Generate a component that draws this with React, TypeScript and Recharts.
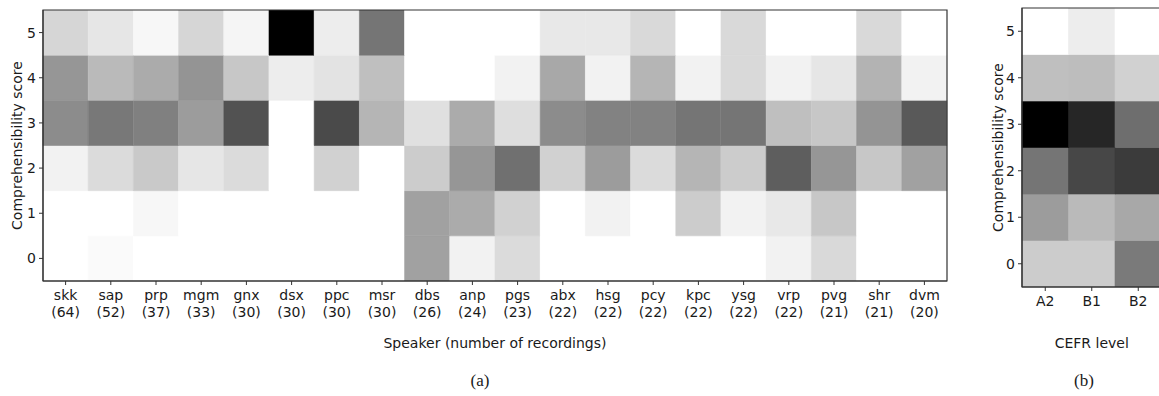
import React from 'react';
import { BarChart, Bar, XAxis, YAxis, Cell, ReferenceArea, Label } from 'recharts';

// ---------- Panel (a): speakers ----------
const speakers = ['skk', 'sap', 'prp', 'mgm', 'gnx', 'dsx', 'ppc', 'msr', 'dbs', 'anp', 'pgs', 'abx', 'hsg', 'pcy', 'kpc', 'ysg', 'vrp', 'pvg', 'shr', 'dvm'];
const recordings = [64, 52, 37, 33, 30, 30, 30, 30, 26, 24, 23, 22, 22, 22, 22, 22, 22, 21, 21, 20];
const scoreTicks = [0, 1, 2, 3, 4, 5];

// intensity per comprehensibility score (0 = white, 1 = black), one value per speaker
const spkScore0 = [0, 0.02, 0, 0, 0, 0, 0, 0, 0.37, 0.05, 0.14, 0, 0, 0, 0, 0, 0.05, 0.15, 0, 0];
const spkScore1 = [0, 0, 0.03, 0, 0, 0, 0, 0, 0.37, 0.33, 0.18, 0, 0.05, 0, 0.2, 0.05, 0.09, 0.22, 0, 0];
const spkScore2 = [0.05, 0.14, 0.21, 0.1, 0.14, 0, 0.18, 0, 0.2, 0.41, 0.56, 0.18, 0.39, 0.14, 0.29, 0.2, 0.63, 0.41, 0.22, 0.37];
const spkScore3 = [0.45, 0.53, 0.5, 0.39, 0.68, 0, 0.71, 0.29, 0.12, 0.33, 0.13, 0.45, 0.49, 0.49, 0.54, 0.54, 0.25, 0.22, 0.42, 0.65];
const spkScore4 = [0.41, 0.27, 0.33, 0.42, 0.22, 0.07, 0.11, 0.25, 0, 0, 0.05, 0.34, 0.05, 0.29, 0.05, 0.15, 0.05, 0.1, 0.3, 0.05];
const spkScore5 = [0.16, 0.1, 0.03, 0.16, 0.04, 1.0, 0.07, 0.54, 0, 0, 0, 0.09, 0.09, 0.15, 0, 0.15, 0, 0, 0.15, 0];

// ---------- Panel (b): CEFR levels ----------
const cefrLevels = ['A2', 'B1', 'B2'];
const cefrScore0 = [0.2, 0.2, 0.52];
const cefrScore1 = [0.39, 0.27, 0.34];
const cefrScore2 = [0.54, 0.72, 0.77];
const cefrScore3 = [1.0, 0.85, 0.57];
const cefrScore4 = [0.25, 0.26, 0.18];
const cefrScore5 = [0, 0.07, 0];

const spkRows = [spkScore0, spkScore1, spkScore2, spkScore3, spkScore4, spkScore5];
const cefrRows = [cefrScore0, cefrScore1, cefrScore2, cefrScore3, cefrScore4, cefrScore5];

const grey = (v: number) => {
  const g = Math.round(255 * (1 - v));
  return `rgb(${g},${g},${g})`;
};

const FONT = 'DejaVu Sans, sans-serif';
const TEXT = '#1a1a1a';
const SPINE = '#333';

function buildTable(cats: string[], subs: (string | null)[], rows: number[][]) {
  return cats.map((c, i) => {
    const r: any = { name: c, sub: subs[i] };
    scoreTicks.forEach((k) => {
      r[`c${k}`] = 1;
      r[`v${k}`] = rows[k][i];
    });
    return r;
  });
}

const makeTick = (subs: (string | null)[]) => (props: any) => {
  const { x, y, payload, index } = props;
  const sub = subs[index];
  return (
    <g transform={`translate(${x},${y})`}>
      <text textAnchor="middle" fontFamily={FONT} fontSize={14} fill={TEXT}>
        <tspan x={0} dy={13}>{payload.value}</tspan>
        {sub ? <tspan x={0} dy={17}>{sub}</tspan> : null}
      </text>
    </g>
  );
};

type PanelProps = {
  cats: string[];
  subs: (string | null)[];
  rows: number[][];
  width: number;
  height: number;
  marginTop: number;
  marginRight: number;
  yAxisWidth: number;
  xAxisHeight: number;
  xTitle: string;
  xTitleOffset: number;
  yTitleOffset: number;
};

function HeatPanel(p: PanelProps) {
  const data = buildTable(p.cats, p.subs, p.rows);
  return (
    <BarChart
      width={p.width}
      height={p.height}
      data={data}
      margin={{ top: p.marginTop, right: p.marginRight, left: 0, bottom: 0 }}
      barCategoryGap={0}
      barGap={0}
    >
      <XAxis
        dataKey="name"
        interval={0}
        height={p.xAxisHeight}
        tick={makeTick(p.subs)}
        tickSize={4}
        tickMargin={2}
        tickLine={{ stroke: SPINE }}
        axisLine={{ stroke: SPINE }}
      >
        <Label
          value={p.xTitle}
          position="insideTop"
          offset={p.xTitleOffset}
          style={{ fontFamily: FONT, fontSize: 14, fill: TEXT }}
        />
      </XAxis>
      <YAxis
        type="number"
        domain={[0, 6]}
        ticks={scoreTicks.map((s) => s + 0.5)}
        tickFormatter={(v: number) => String(v - 0.5)}
        width={p.yAxisWidth}
        tickSize={4}
        tickMargin={3}
        tickLine={{ stroke: SPINE }}
        axisLine={{ stroke: SPINE }}
        tick={{ fontFamily: FONT, fontSize: 14, fill: TEXT }}
        allowDataOverflow
      >
        <Label
          value="Comprehensibility score"
          angle={-90}
          position="insideLeft"
          offset={p.yTitleOffset}
          style={{ fontFamily: FONT, fontSize: 14, fill: TEXT, textAnchor: 'middle' }}
        />
      </YAxis>
      {scoreTicks.map((k) => (
        <Bar key={k} dataKey={`c${k}`} stackId="s" isAnimationActive={false}>
          {data.map((d, i) => (
            <Cell key={i} fill={grey(d[`v${k}`])} stroke={grey(d[`v${k}`])} strokeWidth={0.6} />
          ))}
        </Bar>
      ))}
      <ReferenceArea
        y1={0}
        y2={6}
        fill="none"
        fillOpacity={0}
        stroke={SPINE}
        strokeWidth={1.2}
        zIndex={1000}
      />
    </BarChart>
  );
}

export default function App() {
  const spkSubs = recordings.map((n) => `(${n})`);
  const cefrSubs = cefrLevels.map(() => null);
  return (
    <div
      style={{
        position: 'absolute',
        left: 0,
        top: 0,
        width: 1159,
        height: 396,
        overflow: 'hidden',
        background: '#fff',
      }}
    >
      <div style={{ position: 'absolute', left: 0, top: 0 }}>
        <HeatPanel
          cats={speakers}
          subs={spkSubs}
          rows={spkRows}
          width={960}
          height={396}
          marginTop={10}
          marginRight={13}
          yAxisWidth={43}
          xAxisHeight={115}
          xTitle="Speaker (number of recordings)"
          xTitleOffset={57.5}
          yTitleOffset={17}
        />
      </div>
      <div style={{ position: 'absolute', left: 980, top: 0 }}>
        <HeatPanel
          cats={cefrLevels}
          subs={cefrSubs}
          rows={cefrRows}
          width={200}
          height={396}
          marginTop={8}
          marginRight={18.5}
          yAxisWidth={42}
          xAxisHeight={109}
          xTitle="CEFR level"
          xTitleOffset={51.5}
          yTitleOffset={18}
        />
      </div>
      <svg
        width={1159}
        height={396}
        style={{ position: 'absolute', left: 0, top: 0, pointerEvents: 'none' }}
      >
        <text x={480} y={386} textAnchor="middle" fontFamily="Liberation Serif, serif" fontSize={17} fill={TEXT}>
          (a)
        </text>
        <text x={1084} y={386} textAnchor="middle" fontFamily="Liberation Serif, serif" fontSize={17} fill={TEXT}>
          (b)
        </text>
      </svg>
    </div>
  );
}
